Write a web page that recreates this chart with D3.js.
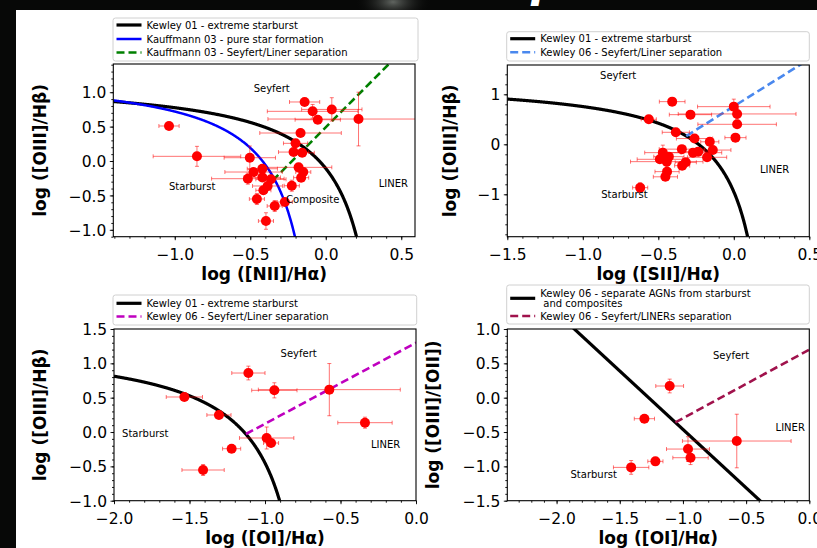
<!DOCTYPE html>
<html><head><meta charset="utf-8">
<script src="https://cdn.jsdelivr.net/npm/d3@7"></script>
<style>
body{margin:0;background:#000;}
svg{display:block;}
text{font-family:"DejaVu Sans",sans-serif;}
</style>
</head><body>
<svg id="c" width="817" height="548"></svg>
<script>
// ---------------- DATA ----------------
// Panel 1: [NII]/Ha vs [OIII]/Hb
const niiX    = [-1.038,-0.853,-0.503,-0.140,-0.087,0.040,-0.053,0.217,-0.167,-0.200,-0.213,-0.156,-0.180,-0.149,-0.163,-0.225,-0.478,-0.516,-0.420,-0.420,-0.363,-0.385,-0.413,-0.456,-0.338,-0.271,-0.396];
const niiY    = [0.509,0.068,0.048,0.858,0.722,0.750,0.600,0.610,0.407,0.257,0.130,0.120,-0.092,-0.160,-0.242,-0.359,-0.160,-0.257,-0.112,-0.238,-0.266,-0.363,-0.426,-0.552,-0.654,-0.596,-0.872];
const niiXerr = [0.067,0.29,0.17,0.10,0.30,0.20,0.15,0.60,0.27,0.08,0.10,0.08,0.22,0.05,0.05,0.05,0.19,0.24,0.10,0.12,0.10,0.10,0.05,0.05,0.05,0.05,0.05];
const niiYerr = [0.02,0.145,0.17,0.05,0.10,0.17,0.05,0.39,0.05,0.05,0.05,0.05,0.05,0.05,0.05,0.08,0.05,0.08,0.05,0.05,0.05,0.05,0.05,0.08,0.08,0.05,0.12];

// Panel 2: [SII]/Ha vs [OIII]/Hb
const siiX    = [-0.408,-0.563,-0.287,0.000,0.022,0.022,0.011,-0.384,-0.260,-0.159,-0.139,-0.177,-0.270,-0.236,-0.344,-0.318,-0.342,-0.444,-0.490,-0.430,-0.470,-0.442,-0.453,-0.620];
const siiY    = [0.853,0.500,0.593,0.753,0.607,0.400,0.133,0.240,0.115,0.050,-0.115,-0.260,-0.167,-0.147,-0.097,-0.360,-0.427,-0.347,-0.300,-0.247,-0.167,-0.547,-0.650,-0.867];
const siiXerr = [0.085,0.05,0.14,0.24,0.39,0.26,0.07,0.09,0.12,0.06,0.12,0.13,0.19,0.10,0.15,0.07,0.05,0.24,0.15,0.10,0.12,0.08,0.08,0.05];
const siiYerr = [0.05,0.03,0.08,0.15,0.10,0.05,0.05,0.05,0.05,0.08,0.06,0.06,0.08,0.08,0.05,0.06,0.05,0.10,0.06,0.06,0.15,0.06,0.06,0.10];

// Panel 3: [OI]/Ha vs [OIII]/Hb
const oiX    = [-1.534,-1.110,-0.938,-0.574,-1.305,-0.338,-0.989,-0.960,-1.221,-1.410];
const oiY    = [0.510,0.859,0.607,0.617,0.248,0.136,-0.087,-0.160,-0.243,-0.553];
const oiXerr = [0.12,0.11,0.15,0.47,0.08,0.18,0.18,0.05,0.06,0.14];
const oiYerr = [0.03,0.10,0.11,0.38,0.03,0.08,0.16,0.03,0.03,0.08];

// Panel 4: [OI]/Ha vs [OIII]/[OII]
const oiiX    = [-1.105,-1.305,-0.574,-0.960,-0.940,-1.218,-1.410];
const oiiY    = [0.170,-0.306,-0.631,-0.748,-0.874,-0.927,-1.015];
const oiiXerr = [0.11,0.08,0.43,0.17,0.14,0.06,0.14];
const oiiYerr = [0.10,0.03,0.39,0.18,0.10,0.04,0.10];

// Demarcation curves: hyperbola y = a/(x-b)+c, straight lines y = m*x + k
const kewley01NII   = [0.61, 0.47, 1.19];
const kauffmann03   = [0.61, 0.05, 1.30];
const kauffSeyLin   = [2.2, 0.49];        // slope, intercept
const kauffSeyLinX  = [-0.352, 0.42];
const kewley01SII   = [0.72, 0.32, 1.30];
const kewley06SII   = [1.89, 0.76];
const kewley06SIIX  = [-0.315, 0.5];
const kewley01OI    = [0.73, -0.59, 1.33];
const kewley06OI    = [1.18, 1.30];
const kewley06OIX   = [-1.126, 0.0];
const kewley06OII   = [-1.701, -2.163];
const kewley06OIISL = [1.0, 0.7];
const kewley06OIISLX= [-1.06, 0.0];

// Tick values
const p1XTicks = [-1.0,-0.5,0.0,0.5];
const p1YTicks = [-1.0,-0.5,0.0,0.5,1.0];
const p2XTicks = [-1.5,-1.0,-0.5,0.0,0.5];
const p2YTicks = [-1,0,1];
const p3XTicks = [-2.0,-1.5,-1.0,-0.5,0.0];
const p3YTicks = [-1.0,-0.5,0.0,0.5,1.0,1.5];
const p4XTicks = [-2.0,-1.5,-1.0,-0.5,0.0];
const p4YTicks = [-1.5,-1.0,-0.5,0.0,0.5,1.0];

// Legend labels
const p1Legend = ["Kewley 01 - extreme starburst","Kauffmann 03 - pure star formation","Kauffmann 03 - Seyfert/Liner separation"];
const p2Legend = ["Kewley 01 - extreme starburst","Kewley 06 - Seyfert/Liner separation"];
const p3Legend = ["Kewley 01 - extreme starburst","Kewley 06 - Seyfert/Liner separation"];
const p4Legend = ["Kewley 06 - separate AGNs from starburst\n and composites","Kewley 06 - Seyfert/LINERs separation"];

// Region annotations [label, x, y]
const p1Notes = [["Seyfert",-0.358,1.049],["Starburst",-0.885,-0.369],["LINER",0.448,-0.33],["Composite",-0.086,-0.553]];
const p2Notes = [["Seyfert",-0.766,1.372],["Starburst",-0.724,-1.0],["LINER",0.27,-0.494]];
const p3Notes = [["Seyfert",-0.777,1.15],["Starburst",-1.793,-0.025],["LINER",-0.201,-0.175]];
const p4Notes = [["Seyfert",-0.619,0.62],["LINER",-0.151,-0.431],["Starburst",-1.706,-1.115]];

// ---------------- LAYOUT ----------------
const svg = d3.select("#c");
const defs = svg.append("defs");
const glow = defs.append("radialGradient").attr("id","glow");
glow.append("stop").attr("offset","0%").attr("stop-color","#6a6f6a").attr("stop-opacity",0.9);
glow.append("stop").attr("offset","100%").attr("stop-color","#000").attr("stop-opacity",0);

svg.append("rect").attr("width",817).attr("height",548).attr("fill","#070807");
svg.append("ellipse").attr("cx",393).attr("cy",2).attr("rx",40).attr("ry",22).attr("fill","url(#glow)");
svg.append("text").attr("x",531).attr("y",-3).attr("fill","#fff")
  .attr("font-size",44).attr("font-weight","bold").attr("font-style","italic").text("p");
svg.append("rect").attr("x",16).attr("y",10).attr("width",801).attr("height",538).attr("fill","#fff");

const fmt1 = d => (d<0?"\u2212":"") + Math.abs(d).toFixed(1);
const fmt0 = d => (d<0?"\u2212":"") + Math.abs(d).toFixed(0);

const panels = [
  {id:1, box:[113.3,415,64,236.7], xd:[-1.407,0.591], yd:[-1.1,1.41],
   xt:p1XTicks, yt:p1YTicks, xm:0.1, ym:0.1, xf:fmt1, yf:fmt1,
   xl:"log ([NII]/H\u03b1)", yl:"log ([OIII]/H\u03b2)", ylx:46,
   X:niiX, Y:niiY, XE:niiXerr, YE:niiYerr, notes:p1Notes,
   curves:[
     {type:"hyp", p:kewley01NII, xr:[-1.407,0.3], color:"#000", w:3.2},
     {type:"hyp", p:kauffmann03, xr:[-1.407,-0.15], color:"#0000ff", w:2.5},
     {type:"lin", p:kauffSeyLin, xr:kauffSeyLinX, color:"#008000", w:2.6, dash:"8,4"}
   ],
   legend:{x:113,y:18,w:305,h:43,rows:[25,39,52.5], labels:p1Legend,
     styles:[{color:"#000",w:3.2},{color:"#0000ff",w:2.5},{color:"#008000",w:2.6,dash:"8,4"}]}},
  {id:2, box:[507.3,809.3,65,236.7], xd:[-1.5,0.5], yd:[-1.848,1.586],
   xt:p2XTicks, yt:p2YTicks, xm:0.1, ym:0.2, xf:fmt1, yf:fmt0,
   xl:"log ([SII]/H\u03b1)", yl:"log ([OIII]/H\u03b2)", ylx:456,
   X:siiX, Y:siiY, XE:siiXerr, YE:siiYerr, notes:p2Notes,
   curves:[
     {type:"hyp", p:kewley01SII, xr:[-1.5,0.2], color:"#000", w:3.2},
     {type:"lin", p:kewley06SII, xr:kewley06SIIX, color:"#4a88ee", w:2.6, dash:"8,4"}
   ],
   legend:{x:506.7,y:31.7,w:302.6,h:29.3,rows:[38.7,52.3], labels:p2Legend,
     styles:[{color:"#000",w:3.2},{color:"#4a88ee",w:2.6,dash:"8,4"}]}},
  {id:3, box:[114,416,329,500.7], xd:[-2,0], yd:[-1,1.5],
   xt:p3XTicks, yt:p3YTicks, xm:0.1, ym:0.1, xf:fmt1, yf:fmt1,
   xl:"log ([OI]/H\u03b1)", yl:"log ([OIII]/H\u03b2)", ylx:46,
   X:oiX, Y:oiY, XE:oiXerr, YE:oiYerr, notes:p3Notes,
   curves:[
     {type:"hyp", p:kewley01OI, xr:[-2,-0.8], color:"#000", w:3.2},
     {type:"lin", p:kewley06OI, xr:kewley06OIX, color:"#bf00bf", w:2.6, dash:"8,4"}
   ],
   legend:{x:113,y:295,w:303.7,h:30,rows:[303.3,316.5], labels:p3Legend,
     styles:[{color:"#000",w:3.2},{color:"#bf00bf",w:2.6,dash:"8,4"}]}},
  {id:4, box:[507.3,809.3,329,500.7], xd:[-2.39,0], yd:[-1.5,1.0],
   xt:p4XTicks, yt:p4YTicks, xm:0.1, ym:0.1, xf:fmt1, yf:fmt1,
   xl:"log ([OI]/H\u03b1)", yl:"log ([OIII]/[OII])", ylx:439,
   X:oiiX, Y:oiiY, XE:oiiXerr, YE:oiiYerr, notes:p4Notes,
   curves:[
     {type:"lin", p:kewley06OII, xr:[-2.39,0], color:"#000", w:3.2},
     {type:"lin", p:kewley06OIISL, xr:kewley06OIISLX, color:"#a0124c", w:2.6, dash:"8,4"}
   ],
   legend:{x:506.7,y:285,w:302.6,h:39,rows:[298.3,316], labels:p4Legend,
     styles:[{color:"#000",w:3.2},{color:"#a0124c",w:2.6,dash:"8,4"}]}}
];

function minorTicks(dom, step){
  const out=[]; const s=Math.ceil(dom[0]/step-1e-6), e=Math.floor(dom[1]/step+1e-6);
  for(let i=s;i<=e;i++) out.push(+(i*step).toFixed(6));
  return out;
}

panels.forEach(P=>{
  const [x0,x1,y0,y1] = P.box;
  const xs = d3.scaleLinear().domain(P.xd).range([x0,x1]);
  const ys = d3.scaleLinear().domain(P.yd).range([y1,y0]);
  const g = svg.append("g");
  const cid = "clip"+P.id;
  defs.append("clipPath").attr("id",cid).append("rect")
    .attr("x",x0).attr("y",y0).attr("width",x1-x0).attr("height",y1-y0);

  // axes: minor
  const gxm = g.append("g").attr("transform",`translate(0,${y1})`)
    .call(d3.axisBottom(xs).tickValues(minorTicks(P.xd,P.xm)).tickSize(2).tickFormat(""));
  const gym = g.append("g").attr("transform",`translate(${x0},0)`)
    .call(d3.axisLeft(ys).tickValues(minorTicks(P.yd,P.ym)).tickSize(2).tickFormat(""));
  // major
  const gx = g.append("g").attr("transform",`translate(0,${y1})`)
    .call(d3.axisBottom(xs).tickValues(P.xt).tickSize(3.5).tickFormat(P.xf));
  const gy = g.append("g").attr("transform",`translate(${x0},0)`)
    .call(d3.axisLeft(ys).tickValues(P.yt).tickSize(3.5).tickFormat(P.yf));
  [gxm,gym,gx,gy].forEach(a=>{a.select(".domain").remove(); a.selectAll("line").attr("stroke","#000").attr("stroke-width",0.9);});
  gx.selectAll("text").attr("y",23).attr("dy",0).attr("font-size",15.5).attr("fill","#000")
    .style("font-family","DejaVu Sans");
  gy.selectAll("text").attr("x",-7).attr("dy","0.36em").attr("font-size",15.5).attr("fill","#000")
    .style("font-family","DejaVu Sans");

  // axis labels
  const xlBase = P.id<=2 ? 280 : 544;
  g.append("text").attr("x",(x0+x1)/2).attr("y",xlBase).attr("text-anchor","middle")
    .attr("font-size",17).attr("font-weight","bold").text(P.xl);
  g.append("text").attr("transform",`translate(${P.ylx},${(y0+y1)/2}) rotate(-90)`)
    .attr("text-anchor","middle").attr("font-size",17).attr("font-weight","bold").text(P.yl);

  // plot content
  const pc = g.append("g").attr("clip-path",`url(#${cid})`);

  // curves
  P.curves.forEach(c=>{
    let pts;
    if(c.type==="hyp"){
      const [a,b,cc]=c.p;
      pts = d3.range(c.xr[0], c.xr[1], 0.002).concat([c.xr[1]]).map(x=>[x, a/(x-b)+cc]);
    } else {
      const [m,k]=c.p;
      pts = [[c.xr[0], m*c.xr[0]+k],[c.xr[1], m*c.xr[1]+k]];
    }
    pc.append("path").datum(pts)
      .attr("d", d3.line().x(d=>xs(d[0])).y(d=>ys(d[1])))
      .attr("fill","none").attr("stroke",c.color).attr("stroke-width",c.w)
      .attr("stroke-dasharray",c.dash||null);
  });

  // region labels
  P.notes.forEach(n=>{
    g.append("text").attr("x",xs(n[1])).attr("y",ys(n[2])).attr("dy","0.35em")
      .attr("text-anchor","middle").attr("font-size",10).attr("fill","#000").text(n[0]);
  });

  // error bars and points
  const data = P.X.map((x,i)=>({x, y:P.Y[i], xe:P.XE[i], ye:P.YE[i]}));
  const ec = "rgba(255,0,0,0.55)";
  const cap = 2;
  data.forEach(d=>{
    const eb = pc.append("g").attr("stroke",ec).attr("stroke-width",1);
    const cx=xs(d.x), cy=ys(d.y);
    const xa=xs(d.x-d.xe), xb=xs(d.x+d.xe), ya=ys(d.y-d.ye), yb=ys(d.y+d.ye);
    eb.append("line").attr("x1",xa).attr("x2",xb).attr("y1",cy).attr("y2",cy);
    eb.append("line").attr("x1",xa).attr("x2",xa).attr("y1",cy-cap).attr("y2",cy+cap);
    eb.append("line").attr("x1",xb).attr("x2",xb).attr("y1",cy-cap).attr("y2",cy+cap);
    eb.append("line").attr("x1",cx).attr("x2",cx).attr("y1",ya).attr("y2",yb);
    eb.append("line").attr("x1",cx-cap).attr("x2",cx+cap).attr("y1",ya).attr("y2",ya);
    eb.append("line").attr("x1",cx-cap).attr("x2",cx+cap).attr("y1",yb).attr("y2",yb);
  });
  pc.selectAll("circle.pt").data(data).join("circle").attr("class","pt")
    .attr("cx",d=>xs(d.x)).attr("cy",d=>ys(d.y)).attr("r",5).attr("fill","#ff0000");

  // frame
  g.append("rect").attr("x",x0).attr("y",y0).attr("width",x1-x0).attr("height",y1-y0)
    .attr("fill","none").attr("stroke","#000").attr("stroke-width",1.1);

  // legend
  const L = P.legend;
  const lg = svg.append("g");
  lg.append("rect").attr("x",L.x).attr("y",L.y).attr("width",L.w).attr("height",L.h)
    .attr("rx",2.5).attr("fill","#fff").attr("stroke","#d0d0d0").attr("stroke-width",1);
  L.labels.forEach((lab,i)=>{
    const s=L.styles[i], ry=L.rows[i];
    lg.append("line").attr("x1",L.x+3.5).attr("x2",L.x+28.5).attr("y1",ry).attr("y2",ry)
      .attr("stroke",s.color).attr("stroke-width",s.w).attr("stroke-dasharray",s.dash||null);
    const lines = lab.split("\n");
    const t = lg.append("text").attr("font-size",10).attr("fill","#000").attr("xml:space","preserve");
    const start = ry - (lines.length-1)*5;
    lines.forEach((ln,j)=>{
      t.append("tspan").attr("x",L.x+33.5).attr("y",start+j*10+3.6).text(ln);
    });
  });
});
</script>
</body></html>
